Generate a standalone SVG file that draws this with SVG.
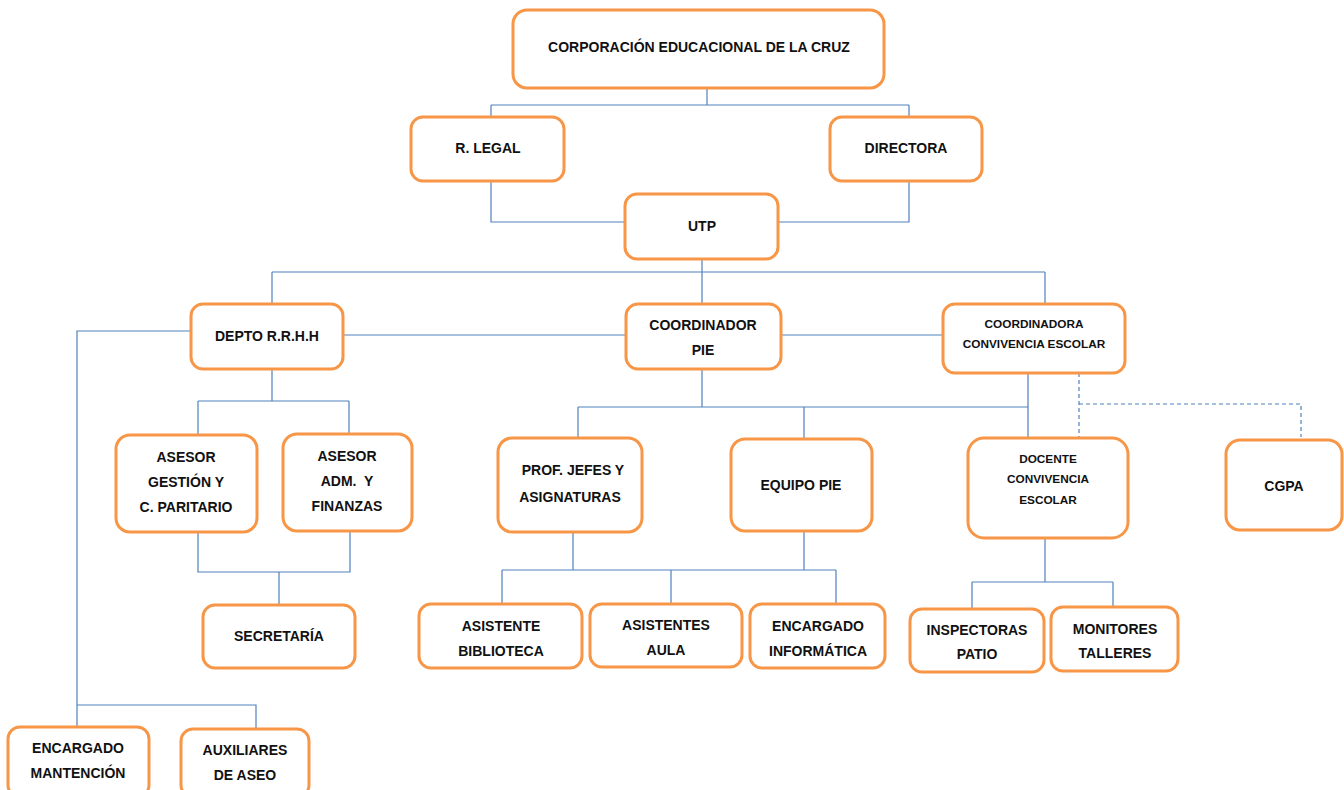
<svg xmlns="http://www.w3.org/2000/svg" width="1344" height="790" viewBox="0 0 1344 790">
<style>
.box{fill:#fff;stroke:#F79646;stroke-width:3}
.t{font-family:"Liberation Sans",Arial,sans-serif;font-weight:bold;font-size:14px;fill:#111;text-anchor:middle}
.s{font-size:11.8px}
.c{fill:none;stroke:#4F81BD;stroke-width:1.2}
.d{fill:none;stroke:#4F81BD;stroke-width:1.2;stroke-dasharray:4 3}
</style>
<rect width="1344" height="790" fill="#fff"/>
<g id="connectors">
<path class="c" d="M707 88V105M491 105H909M491 105V117M909 105V117"/>
<path class="c" d="M491 181V222H625M909 181V222H778"/>
<path class="c" d="M702 259V272M272 272H1045M272 272V304M702 272V304M1045 272V304"/>
<path class="c" d="M190 331H77V727M77 705H256V729"/>
<path class="c" d="M343 335H626M781 335H943"/>
<path class="c" d="M272 369V401M198 401H349M198 401V435M349 401V434"/>
<path class="c" d="M198 532V572H350V531M279 572V605"/>
<path class="c" d="M702 369V407M578 407H1028M578 407V438M804 407V439M1028 373V437"/>
<path class="c" d="M573 532V570M804 531V570M502 570H836M502 570V604M671 570V604M836 570V604"/>
<path class="d" d="M1079 373V437M1079 404H1301V437"/>
<path class="c" d="M1045 538V582M972 582H1113M972 582V609M1113 582V607"/>
</g>
<g id="n-corp"><rect class="box" x="513" y="10" width="371" height="78" rx="14"/><text class="t" x="699" y="52">CORPORACIÓN EDUCACIONAL DE LA CRUZ</text></g>
<g id="n-rlegal"><rect class="box" x="411" y="117" width="153" height="64" rx="12"/><text class="t" x="488" y="153">R. LEGAL</text></g>
<g id="n-directora"><rect class="box" x="830" y="117" width="152" height="64" rx="12"/><text class="t" x="906" y="153">DIRECTORA</text></g>
<g id="n-utp"><rect class="box" x="625" y="194" width="153" height="65" rx="12"/><text class="t" x="702" y="231">UTP</text></g>
<g id="n-rrhh"><rect class="box" x="191" y="304" width="152" height="65" rx="12"/><text class="t" x="267" y="341">DEPTO R.R.H.H</text></g>
<g id="n-cpie"><rect class="box" x="626" y="304" width="155" height="65" rx="12"/><text class="t" x="703" y="330">COORDINADOR</text><text class="t" x="703" y="355">PIE</text></g>
<g id="n-cconv"><rect class="box" x="943" y="304" width="182" height="69" rx="12"/><text class="t s" x="1034" y="328">COORDINADORA</text><text class="t s" x="1034" y="348">CONVIVENCIA ESCOLAR</text></g>
<g id="n-asesor1"><rect class="box" x="116" y="435" width="141" height="97" rx="14"/><text class="t" x="186" y="462">ASESOR</text><text class="t" x="186" y="487">GESTIÓN Y</text><text class="t" x="186" y="512">C. PARITARIO</text></g>
<g id="n-asesor2"><rect class="box" x="283" y="434" width="129" height="97" rx="14"/><text class="t" x="347" y="461">ASESOR</text><text class="t" x="347" y="486">ADM.&#160; Y</text><text class="t" x="347" y="511">FINANZAS</text></g>
<g id="n-secretaria"><rect class="box" x="203" y="605" width="152" height="63" rx="12"/><text class="t" x="279" y="641">SECRETARÍA</text></g>
<g id="n-mantencion"><rect class="box" x="8" y="727" width="141" height="70" rx="12"/><text class="t" x="78" y="753">ENCARGADO</text><text class="t" x="78" y="778">MANTENCIÓN</text></g>
<g id="n-aseo"><rect class="box" x="181" y="729" width="128" height="68" rx="12"/><text class="t" x="245" y="755">AUXILIARES</text><text class="t" x="245" y="780">DE ASEO</text></g>
<g id="n-prof"><rect class="box" x="498" y="438" width="144" height="94" rx="14"/><text class="t" x="573" y="475">PROF. JEFES Y</text><text class="t" x="570" y="502">ASIGNATURAS</text></g>
<g id="n-equipo"><rect class="box" x="731" y="439" width="141" height="92" rx="14"/><text class="t" x="801" y="490">EQUIPO PIE</text></g>
<g id="n-biblio"><rect class="box" x="419" y="604" width="163" height="64" rx="12"/><text class="t" x="501" y="631">ASISTENTE</text><text class="t" x="501" y="656">BIBLIOTECA</text></g>
<g id="n-aula"><rect class="box" x="590" y="604" width="152" height="63" rx="12"/><text class="t" x="666" y="630">ASISTENTES</text><text class="t" x="666" y="655">AULA</text></g>
<g id="n-info"><rect class="box" x="750" y="604" width="135" height="64" rx="12"/><text class="t" x="818" y="631">ENCARGADO</text><text class="t" x="818" y="656">INFORMÁTICA</text></g>
<g id="n-docente"><rect class="box" x="968" y="438" width="160" height="100" rx="16"/><text class="t s" x="1048" y="463">DOCENTE</text><text class="t s" x="1048" y="483">CONVIVENCIA</text><text class="t s" x="1048" y="504">ESCOLAR</text></g>
<g id="n-cgpa"><rect class="box" x="1226" y="440" width="116" height="90" rx="14"/><text class="t" x="1284" y="491">CGPA</text></g>
<g id="n-inspect"><rect class="box" x="910" y="609" width="134" height="63" rx="12"/><text class="t" x="977" y="635">INSPECTORAS</text><text class="t" x="977" y="659">PATIO</text></g>
<g id="n-monitores"><rect class="box" x="1051" y="607" width="127" height="64" rx="12"/><text class="t" x="1115" y="634">MONITORES</text><text class="t" x="1115" y="658">TALLERES</text></g>
</svg>
